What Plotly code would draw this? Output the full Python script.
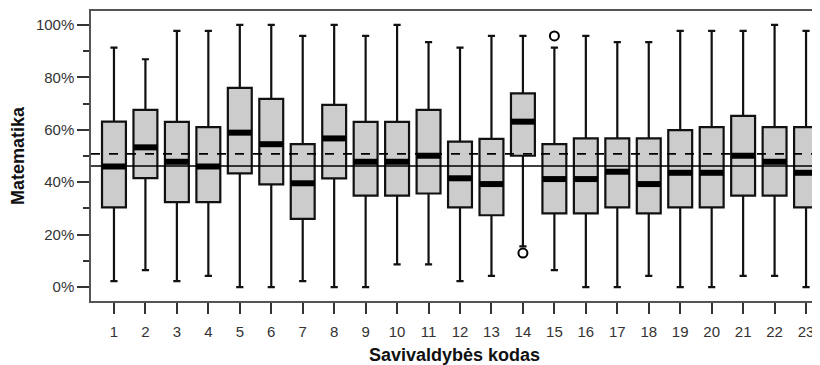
import plotly.graph_objects as go

codes = list(range(1, 24))
whisker_low = [2.3, 6.5, 2.3, 4.3, 0, 0, 2.3, 0, 0, 8.7, 8.7, 2.3, 4.3, 15.5, 6.5, 0, 0, 4.3, 0, 0, 4.3, 4.3, 0]
q1 = [30.4, 41.6, 32.4, 32.4, 43.4, 39.2, 26.0, 41.5, 34.9, 34.9, 35.7, 30.4, 27.4, 50.1, 28.1, 28.1, 30.4, 28.1, 30.4, 30.4, 34.9, 34.9, 30.4]
medians = [46.0, 53.3, 47.8, 46.0, 58.9, 54.5, 39.6, 56.7, 47.8, 47.8, 50.1, 41.5, 39.3, 63.1, 41.2, 41.2, 44.0, 39.3, 43.6, 43.6, 50.1, 47.8, 43.6]
q3 = [63.1, 67.6, 63.0, 61.0, 76.0, 71.8, 54.5, 69.5, 63.0, 63.0, 67.6, 55.5, 56.5, 73.9, 54.5, 56.7, 56.7, 56.7, 59.9, 61.0, 65.3, 61.0, 61.0]
whisker_high = [91.3, 86.9, 97.7, 97.7, 100, 100, 95.8, 100, 95.8, 100, 93.4, 91.3, 95.8, 95.8, 91.3, 95.8, 93.4, 93.4, 97.7, 97.7, 97.7, 100, 97.7]

outlier_x = [14, 15]
outlier_y = [13.0, 95.8]

mean_line = 50.8
overall_median = 46.2

y_ticks = [0, 20, 40, 60, 80, 100]
y_labels = ["0%", "20%", "40%", "60%", "80%", "100%"]
y_minor = [10, 30, 50, 70, 90]

fig = go.Figure()

fig.add_trace(
    go.Box(
        x=codes,
        q1=q1,
        median=medians,
        q3=q3,
        lowerfence=whisker_low,
        upperfence=whisker_high,
        width=0.76,
        whiskerwidth=0.3,
        fillcolor="#cccccc",
        line=dict(color="#111111", width=2.2),
        boxpoints=False,
        hoverinfo="skip",
        showlegend=False,
    )
)

# thick median band (line-ew length is 1.4 * size)
fig.add_trace(
    go.Scatter(
        x=codes,
        y=medians,
        mode="markers",
        marker=dict(symbol="line-ew", size=17, color="black", line=dict(width=6, color="black")),
        showlegend=False,
        hoverinfo="skip",
    )
)

fig.add_trace(
    go.Scatter(
        x=outlier_x,
        y=outlier_y,
        mode="markers",
        marker=dict(symbol="circle-open", size=9, color="black", line=dict(width=2, color="black")),
        showlegend=False,
    )
)

fig.add_hline(y=mean_line, line_width=1.6, line_dash="dash", line_color="black")
fig.add_hline(y=overall_median, line_width=1.4, line_color="black")

# page body has an 8px margin, so the figure is shifted to fit
fig.update_layout(
    width=812,
    height=357,
    paper_bgcolor="white",
    plot_bgcolor="white",
    font=dict(family="Liberation Sans, Arial, sans-serif", size=15, color="#333333"),
    margin=dict(l=83, r=0, t=3, b=64),
)

fig.update_xaxes(
    range=[0.27, 23.38],
    tickmode="array",
    tickvals=codes,
    ticks="outside",
    ticklen=11,
    tickwidth=1.5,
    tickcolor="#333333",
    ticklabelstandoff=5,
    showline=True,
    linecolor="#555555",
    linewidth=1.5,
    mirror=True,
    showgrid=False,
    zeroline=False,
    title=dict(text="<b>Savivaldybės kodas</b>", font=dict(size=18, color="#111111"), standoff=13),
)

fig.update_yaxes(
    range=[-5.3, 105.3],
    tickmode="array",
    tickvals=y_ticks,
    ticktext=y_labels,
    ticks="outside",
    ticklen=12,
    tickwidth=1.5,
    tickcolor="#333333",
    minor=dict(tickvals=y_minor, ticks="outside", ticklen=6, tickwidth=1.5, tickcolor="#333333"),
    showline=True,
    linecolor="#555555",
    linewidth=1.5,
    mirror=True,
    showgrid=False,
    zeroline=False,
    title=dict(text="<b>Matematika</b>", font=dict(size=18, color="#111111"), standoff=11),
)

fig.write_html("out.html")
